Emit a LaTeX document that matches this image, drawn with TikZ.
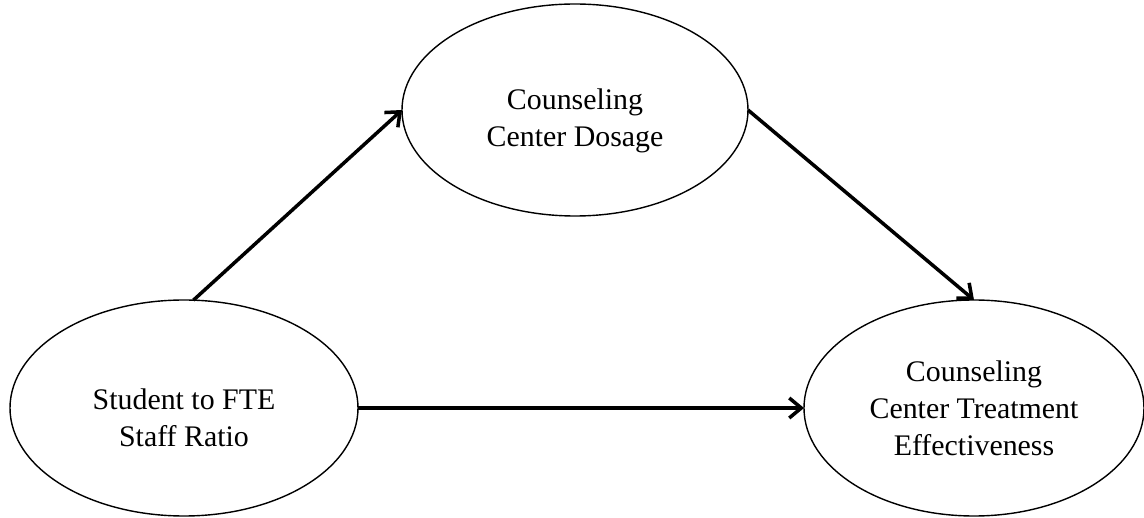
\documentclass[tikz,border=0pt]{standalone}
\usepackage{fontspec}
\setmainfont{Liberation Serif}
\usetikzlibrary{shapes.geometric}
\usetikzlibrary{arrows.meta}

\begin{document}
\begin{tikzpicture}[
    var/.style={draw, ellipse, line width=0.8pt, inner sep=0pt, outer sep=0pt},
    var text/.style={align=center, inner sep=0pt, font=\fontsize{17}{21}\selectfont},
    line style/.style={line width=2pt, -{Straight Barb[length=2.4mm, width=4mm, line width=2pt]}}
]
    \useasboundingbox (0,0) rectangle (22.88,10.36);

    % Define the three variables
    \node[var, minimum width=6.96cm, minimum height=4.32cm] (ratio) at (3.68, 2.2) {};
    \node[var, minimum width=6.92cm, minimum height=4.24cm] (dosage) at (11.5, 8.16) {};
    \node[var, minimum width=6.8cm, minimum height=4.32cm] (effect) at (19.48, 2.2) {};

    % Texts (slightly below the centre, as in the figure)
    \node[var text, yshift=-0.2cm] (ratio_text) at (ratio) {Student to FTE\\Staff Ratio};
    \node[var text, yshift=-0.22cm] (dosage_text) at (dosage) {Counseling\\Center Dosage};
    \node[var text] (effect_text) at (effect) {Counseling\\Center Treatment\\Effectiveness};

    % Draw paths between the variables
    \draw[line style] (ratio.85) -- (dosage.west);
    \draw[line style] (dosage.east) -- (effect.north);
    \draw[line style] (ratio.east) -- (effect.west);

\end{tikzpicture}
\end{document}
